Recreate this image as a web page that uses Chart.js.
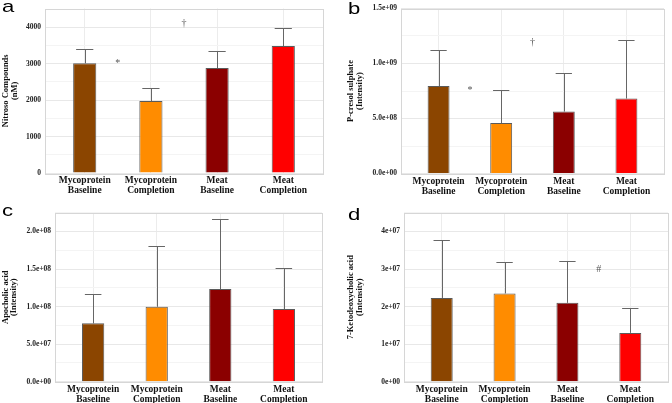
<!DOCTYPE html>
<html>
<head>
<meta charset="utf-8">
<script src="https://cdn.jsdelivr.net/npm/chart.js@4"></script>
<style>
body{margin:0;background:#fff;width:672px;height:403px;position:relative;overflow:hidden}
.p{position:absolute}
</style>
</head>
<body>
<div class="p" style="left:0;top:0;width:336px;height:200px"><canvas id="ca"></canvas></div>
<div class="p" style="left:336px;top:0;width:336px;height:200px"><canvas id="cb"></canvas></div>
<div class="p" style="left:0;top:200px;width:336px;height:203px"><canvas id="cc"></canvas></div>
<div class="p" style="left:336px;top:200px;width:336px;height:203px"><canvas id="cd"></canvas></div>
<script>
// groups, same in every panel
const groups = [['Mycoprotein','Baseline'],['Mycoprotein','Completion'],['Meat','Baseline'],['Meat','Completion']];
const barColors = ['#8B4500','#FF8C00','#8B0000','#FF0000'];

// panel a - nitroso compounds
const nitrosoMean = [3010, 1975, 2880, 3485];
const nitrosoUpper = [3400, 2345, 3350, 3970];
const nitrosoMarks = [{x:1.5, y:3010, t:'*'}, {x:2.5, y:4100, t:'†'}];

// panel b - p-cresol sulphate
const cresolMean = [7.95e8, 4.58e8, 5.63e8, 6.82e8];
const cresolUpper = [1.12e9, 7.56e8, 9.1e8, 1.215e9];
const cresolMarks = [{x:1.5, y:7.6e8, t:'*'}, {x:2.5, y:1.19e9, t:'†'}];

// panel c - apocholic acid
const apoMean = [7.77e7, 9.97e7, 1.233e8, 9.67e7];
const apoUpper = [1.17e8, 1.81e8, 2.16e8, 1.52e8];

// panel d - 7-ketodeoxycholic acid
const ketoMean = [2.23e7, 2.35e7, 2.1e7, 1.3e7];
const ketoUpper = [3.76e7, 3.18e7, 3.22e7, 1.97e7];
const ketoMarks = [{x:3.5, y:3.0e7, t:'#'}];

const serif = '"Liberation Serif","Times New Roman",serif';

// error bars, significance marks, panel border, panel letter
const extras = {
  id:'extras',
  afterDatasetsDraw(chart){
    const o = chart.options.plugins.extras;
    const ctx = chart.ctx, xs = chart.scales.x, ys = chart.scales.y, a = chart.chartArea;
    ctx.save();
    // error bars
    ctx.strokeStyle = '#666';
    ctx.lineWidth = 1;
    chart.getDatasetMeta(0).data.forEach((bar, i) => {
      const x = Math.round(bar.x) + 0.5;
      const yt = Math.round(ys.getPixelForValue(o.upper[i])) + 0.5;
      const xl = xs.getPixelForValue(i + 1 - 0.13), xr = xs.getPixelForValue(i + 1 + 0.13);
      ctx.beginPath();
      ctx.moveTo(x, bar.y);
      ctx.lineTo(x, yt);
      ctx.moveTo(xl, yt);
      ctx.lineTo(xr, yt);
      ctx.stroke();
    });
    // marks
    ctx.fillStyle = '#555';
    ctx.font = '10px ' + serif;
    ctx.textAlign = 'center';
    ctx.textBaseline = 'middle';
    (o.marks || []).forEach(m => {
      ctx.fillText(m.t, xs.getPixelForValue(m.x), ys.getPixelForValue(m.y));
    });
    // border
    ctx.strokeStyle = '#d6d6d6';
    ctx.strokeRect(Math.round(a.left) + 0.5, Math.round(a.top) + 0.5, Math.round(a.right - a.left), Math.round(a.bottom - a.top));
    // letter
    ctx.fillStyle = '#000';
    ctx.font = '17px "Liberation Sans",Arial,sans-serif';
    ctx.textAlign = 'left';
    ctx.textBaseline = 'alphabetic';
    ctx.translate(o.letterPos[0], o.letterPos[1]);
    ctx.scale(1.3, 1);
    ctx.fillText(o.letter, 0, 0);
    ctx.restore();
  }
};

function panel(id, cfg){
  const half = cfg.step / 2;
  new Chart(document.getElementById(id).getContext('2d'), {
    type:'bar',
    data:{
      datasets:[{
        data: cfg.mean.map((v, i) => ({x:i + 1, y:v})),
        backgroundColor: barColors,
        borderColor:'#5a5a5a',
        borderWidth:1,
        barPercentage:0.35,
        categoryPercentage:1
      }]
    },
    options:{
      responsive:true,
      maintainAspectRatio:false,
      animation:false,
      layout:{padding:{top:cfg.top, right:cfg.right, left:0, bottom:0}},
      plugins:{
        legend:{display:false},
        tooltip:{enabled:false},
        extras:{upper:cfg.upper, marks:cfg.marks, letter:cfg.letter, letterPos:cfg.letterPos}
      },
      scales:{
        x:{
          type:'linear', min:0.4, max:4.6, offset:false,
          afterBuildTicks: s => { s.ticks = [1,2,3,4].map(v => ({value:v})); },
          afterFit: s => { s.height = cfg.xh; },
          grid:{color:'#ececec', drawTicks:false, offset:false},
          border:{display:false},
          ticks:{
            padding:3,
            color:'#111',
            font:{family:serif, size:9.5, weight:'bold', lineHeight:1.05},
            callback: v => groups[v - 1]
          }
        },
        y:{
          min:0, max:cfg.max,
          afterBuildTicks: s => {
            const t = [];
            for (let v = 0; v <= cfg.max + 1e-9 * cfg.max; v += half) t.push({value:v});
            s.ticks = t;
          },
          afterFit: s => { s.width = cfg.yw; },
          grid:{
            drawTicks:false,
            color: c => (Math.round(c.tick.value / half) % 2 === 0) ? '#e8e8e8' : '#f4f4f4'
          },
          border:{display:false},
          title:{
            display:true,
            text:cfg.title,
            color:'#111',
            font:{family:serif, size:8.5, weight:'bold', lineHeight:1},
            padding:{top:cfg.tpad, bottom:0}
          },
          ticks:{
            padding:4,
            color:'#222',
            font:{family:serif, size:7.5, weight:'bold'},
            callback: v => (Math.round(v / half) % 2 === 0) ? cfg.fmt(v) : ''
          }
        }
      }
    },
    plugins:[extras]
  });
}

panel('ca', {
  mean:nitrosoMean, upper:nitrosoUpper, marks:nitrosoMarks,
  max:4515, step:1000, fmt: v => String(v),
  title:['Nitroso Compounds','(nM)'], tpad:2,
  yw:45, xh:27, top:4, right:13, letter:'a', letterPos:[2,12]
});
panel('cb', {
  mean:cresolMean, upper:cresolUpper, marks:cresolMarks,
  max:1.5e9, step:5e8, fmt: v => v.toExponential(1).replace(/e([+-])(\d)$/, 'e$10$2'),
  title:['P-cresol sulphate','(Intensity)'], tpad:11,
  yw:65, xh:26.5, top:4.5, right:8, letter:'b', letterPos:[12,14]
});
panel('cc', {
  mean:apoMean, upper:apoUpper, marks:[],
  max:2.25e8, step:5e7, fmt: v => v.toExponential(1).replace(/e([+-])(\d)$/, 'e$10$2'),
  title:['Apocholic acid','(Intensity)'], tpad:1.5,
  yw:55, xh:21.3, top:12.7, right:14, letter:'c', letterPos:[2,16]
});
panel('cd', {
  mean:ketoMean, upper:ketoUpper, marks:ketoMarks,
  max:4.5e7, step:1e7, fmt: v => v.toExponential(0).replace(/e([+-])(\d)$/, 'e$10$2'),
  title:['7-Ketodeoxycholic acid','(Intensity)'], tpad:11,
  yw:68, xh:21.3, top:12.7, right:4, letter:'d', letterPos:[12,20]
});
</script>
</body>
</html>
